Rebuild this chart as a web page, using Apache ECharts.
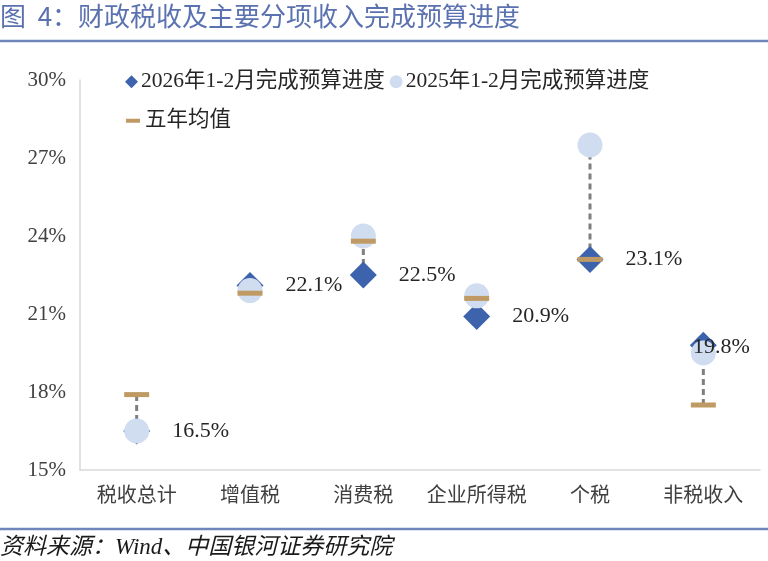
<!DOCTYPE html>
<html><head><meta charset="utf-8">
<script src="https://cdn.jsdelivr.net/npm/echarts@6/dist/echarts.min.js"></script>
<style>html,body{margin:0;padding:0;background:#fff}#c{width:768px;height:561px}</style>
</head><body><div id="c"></div>
<script>
const categories = ['税收总计','增值税','消费税','企业所得税','个税','非税收入'];
const progress2026 = [16.5, 22.1, 22.5, 20.9, 23.1, 19.8];
const progress2025 = [16.5, 21.9, 24.0, 21.7, 27.5, 19.5];
const fiveYearAvg = [17.9, 21.8, 23.8, 21.6, 23.1, 17.5];
const yTicks = [15, 18, 21, 24, 27, 30];
const names = ['2026年1-2月完成预算进度','2025年1-2月完成预算进度','五年均值'];

const FONT = '"Liberation Serif","Noto Sans CJK SC",serif';
const ranges = categories.map((c,i)=>{
  const v=[progress2026[i],progress2025[i],fiveYearAvg[i]];
  return [i, Math.min(...v), Math.max(...v)];
});
const labelData = progress2026.map((v,i)=> i===progress2026.length-1
  ? {value:v,label:{position:'inside',offset:[18,2]}} : v);

const chart = echarts.init(document.getElementById('c'));
chart.setOption({
  animation:false,
  textStyle:{fontFamily:FONT},
  grid:{left:80,right:8,top:80,bottom:91,containLabel:false},
  xAxis:{type:'category',data:categories,boundaryGap:true,
    axisLine:{lineStyle:{color:'#d9d9d9',width:1.5}},axisTick:{show:false},
    axisLabel:{interval:0,color:'#404040',fontSize:20,margin:17,fontFamily:FONT}},
  yAxis:{type:'value',min:yTicks[0],max:yTicks[yTicks.length-1],interval:3,
    axisLine:{show:true,lineStyle:{color:'#d9d9d9',width:1.5}},axisTick:{show:false},
    splitLine:{show:false},
    axisLabel:{color:'#404040',fontSize:21,margin:14,formatter:'{value}%',fontFamily:FONT}},
  legend:[
    {data:[{name:names[0],icon:'diamond'},{name:names[1],icon:'circle'}],left:120,top:66,
     itemWidth:13,itemHeight:13,itemGap:5,textStyle:{fontSize:21.5,color:'#262626',fontFamily:FONT,padding:[0,0,0,-2]}},
    {data:[{name:names[2],icon:'rect'}],left:121,top:105,itemWidth:14,itemHeight:4,itemGap:5,
     textStyle:{fontSize:21.5,color:'#262626',fontFamily:FONT}}
  ],
  graphic:[
    {type:'text',left:0,top:3,style:{text:'图  4：财政税收及主要分项收入完成预算进度',fill:'#5b72b0',font:'26px "Noto Sans CJK SC",sans-serif'}},
    {type:'line',shape:{x1:0,y1:41,x2:768,y2:41},style:{stroke:'#6f86bb',lineWidth:2.5}},
    {type:'line',shape:{x1:0,y1:529,x2:768,y2:529},style:{stroke:'#6f86bb',lineWidth:2.5}},
    {type:'text',left:0,top:536,style:{text:'资料来源：Wind、中国银河证券研究院',fill:'#1a1a1a',font:'italic 23px "Liberation Serif","Noto Sans CJK SC",serif'}}
  ],
  series:[
    {type:'custom',name:'range',z:1,data:ranges,
     renderItem:function(params,api){
       const a=api.coord([api.value(0),api.value(1)]);
       const b=api.coord([api.value(0),api.value(2)]);
       return {type:'line',shape:{x1:a[0],y1:a[1],x2:b[0],y2:b[1]},
         style:{stroke:'#7f7f7f',lineWidth:3,lineDash:[6,4]}};
     }},
    {type:'scatter',name:names[0],z:2,data:progress2026,symbol:'diamond',symbolSize:27,
     itemStyle:{color:'#3d63ad',opacity:1}},
    {type:'scatter',name:names[1],z:3,data:progress2025,symbol:'circle',symbolSize:25,
     itemStyle:{color:'#d0ddf0',opacity:1}},
    {type:'scatter',name:names[2],z:4,data:fiveYearAvg,symbol:'rect',symbolSize:[25,5],
     itemStyle:{color:'#bf9a64',opacity:1}},
    {type:'scatter',name:'labels',z:5,silent:true,data:labelData,symbol:'diamond',symbolSize:27,
     itemStyle:{color:'rgba(0,0,0,0)',opacity:1},
     label:{show:true,position:'right',distance:22,formatter:p=>p.value.toFixed(1)+'%',
       fontSize:22,color:'#262626',fontFamily:FONT}}
  ]
});
</script></body></html>
